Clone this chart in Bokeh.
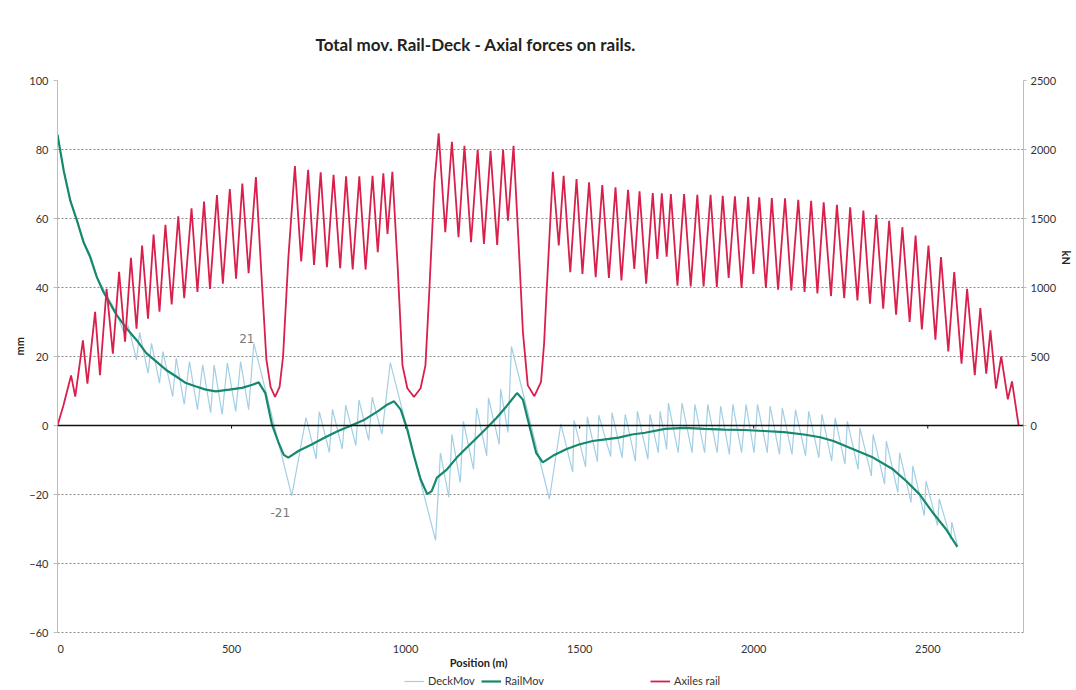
from bokeh.plotting import figure
from bokeh.models import (Range1d, LinearAxis, FixedTicker, Span, Label,
                          Legend, LegendItem, Title, ColumnDataSource)
from bokeh.core.properties import value
from bokeh.embed import file_html
from bokeh.resources import INLINE

# ---------------- data ----------------
x_ticks = [0, 500, 1000, 1500, 2000, 2500]
x_tick_labels = ["0", "500", "1000", "1500", "2000", "2500"]
mm_ticks = [-60, -40, -20, 0, 20, 40, 60, 80, 100]
kn_ticks = [0, 500, 1000, 1500, 2000, 2500]

rail_force_x = [0, 17, 39, 51, 73, 86, 108, 122, 141, 159, 177, 194, 211, 227, 243, 260, 276, 293,
                310, 328, 347, 364, 385, 402, 421, 438, 458, 475, 495, 513, 531, 549, 570, 588,
                600, 612, 625, 638, 648, 663, 682, 700, 720, 737, 756, 774, 793, 812, 829, 848,
                867, 885, 905, 920, 936, 948, 962, 977, 991, 1005, 1024, 1043, 1057, 1067, 1083,
                1095, 1114, 1133, 1152, 1169, 1188, 1207, 1225, 1244, 1263, 1280, 1294, 1310, 1325,
                1337, 1351, 1370, 1389, 1398, 1404, 1423, 1440, 1454, 1473, 1491, 1508, 1527, 1546,
                1565, 1584, 1603, 1620, 1639, 1657, 1672, 1691, 1710, 1723, 1736, 1750, 1762, 1781,
                1800, 1819, 1838, 1856, 1876, 1894, 1911, 1928, 1946, 1965, 1984, 1999, 2016, 2035,
                2052, 2070, 2090, 2108, 2128, 2146, 2165, 2183, 2201, 2222, 2239, 2260, 2277, 2298,
                2315, 2334, 2352, 2372, 2389, 2409, 2427, 2448, 2465, 2483, 2502, 2522, 2538, 2559,
                2576, 2597, 2613, 2635, 2651, 2668, 2680, 2696, 2711, 2730, 2742, 2761]
rail_force_kn = [0, 145, 363, 210, 617, 304, 824, 364, 990, 521, 1113, 607, 1215, 701, 1304, 774,
                 1383, 824, 1455, 877, 1516, 923, 1574, 967, 1622, 990, 1670, 1027, 1714, 1063, 1753,
                 1103, 1800, 1000, 480, 280, 207, 280, 500, 1207, 1880, 1188, 1853, 1164, 1834, 1147,
                 1817, 1140, 1805, 1130, 1805, 1130, 1810, 1256, 1827, 1388, 1839, 1159, 436, 270,
                 207, 270, 436, 918, 1762, 2118, 1400, 2055, 1364, 2027, 1328, 1998, 1316, 1990, 1309,
                 1998, 1484, 2027, 1300, 677, 291, 212, 316, 600, 918, 1839, 1304, 1810, 1111, 1786,
                 1099, 1762, 1075, 1742, 1070, 1726, 1051, 1708, 1135, 1697, 1027, 1685, 1207, 1682,
                 1224, 1677, 1014, 1677, 1007, 1672, 1007, 1672, 1003, 1665, 1070, 1661, 996, 1658,
                 1099, 1653, 996, 1648, 985, 1646, 978, 1636, 967, 1629, 957, 1617, 938, 1600, 923,
                 1581, 906, 1557, 882, 1526, 846, 1484, 803, 1437, 750, 1376, 696, 1304, 622, 1220,
                 537, 1111, 448, 991, 364, 851, 376, 689, 268, 501, 190, 320, 0]

rail_mov_x = [0, 18, 37, 56, 75, 94, 113, 132, 151, 170, 198, 227, 255, 284, 312, 341, 369, 398,
              426, 455, 493, 530, 560, 578, 597, 616, 635, 650, 663, 692, 730, 768, 806, 844, 882,
              920, 948, 967, 986, 1005, 1024, 1043, 1062, 1075, 1090, 1119, 1147, 1176, 1204, 1233,
              1261, 1290, 1320, 1337, 1356, 1375, 1394, 1423, 1461, 1498, 1537, 1574, 1612, 1650,
              1688, 1745, 1802, 1859, 1916, 1973, 2030, 2087, 2144, 2191, 2229, 2286, 2343, 2400,
              2438, 2476, 2514, 2552, 2585]
rail_mov_mm = [84.3, 73.8, 65.1, 59.4, 53.1, 48.8, 43.0, 38.7, 35.4, 32.0, 28.2, 24.8, 21.0, 18.5,
               16.1, 14.2, 12.3, 11.3, 10.4, 9.9, 10.4, 10.9, 11.8, 12.5, 9.4, 0.3, -5.0, -8.5, -9.3,
               -7.4, -5.5, -3.5, -1.6, 0.0, 1.7, 4.1, 6.1, 7.0, 4.6, -1.2, -8.8, -15.6, -19.9, -19.0,
               -15.1, -12.7, -9.3, -6.4, -3.6, -0.7, 2.2, 5.6, 9.4, 7.5, -0.2, -7.9, -10.7, -8.8,
               -6.9, -5.5, -4.5, -4.0, -3.5, -2.6, -2.1, -1.0, -0.7, -1.0, -1.2, -1.3, -1.6, -1.9,
               -2.6, -3.4, -4.5, -6.9, -9.3, -12.7, -16.1, -19.9, -25.2, -30.0, -35.2]

deck_mov_x = [0, 18, 37, 56, 75, 94, 113, 132, 151, 170, 192, 203, 227, 236, 260, 270, 293, 303,
              331, 341, 364, 379, 402, 417, 440, 450, 473, 488, 512, 526, 549, 564, 673, 714, 743,
              752, 781, 790, 818, 828, 857, 866, 894, 904, 932, 956, 1086, 1100, 1124, 1133, 1157,
              1166, 1195, 1204, 1233, 1238, 1269, 1273, 1294, 1304, 1413, 1446, 1480, 1484, 1517,
              1522, 1551, 1555, 1589, 1593, 1622, 1631, 1660, 1666, 1696, 1702, 1726, 1731, 1750,
              1755, 1783, 1794, 1823, 1831, 1859, 1868, 1895, 1905, 1930, 1940, 1965, 1978, 2001,
              2011, 2039, 2047, 2074, 2082, 2110, 2120, 2149, 2158, 2187, 2196, 2224, 2234, 2262,
              2269, 2300, 2305, 2338, 2343, 2376, 2381, 2414, 2419, 2452, 2457, 2490, 2495, 2528,
              2533, 2566, 2569, 2585]
deck_mov_mm = [84.3, 73.8, 65.1, 59.4, 53.1, 49.5, 43.0, 39.5, 36.0, 32.5, 26.5, 29.0, 19.0, 27.0,
               15.2, 23.8, 12.3, 21.4, 8.4, 19.5, 6.1, 18.5, 4.6, 17.6, 3.7, 17.6, 3.2, 18.1, 4.1,
               18.5, 4.6, 23.8, -20.4, 2.3, -9.7, 4.0, -7.8, 4.7, -6.8, 5.9, -5.8, 7.4, -4.3, 8.2,
               -2.5, 18.2, -33.3, -7.9, -20.8, -2.6, -16.5, 1.2, -12.7, 5.1, -8.8, 8.0, -5.5, 10.6,
               -2.0, 22.9, -21.3, 0.5, -13.5, 1.5, -12.0, 2.5, -10.5, 3.0, -9.0, 3.7, -9.3, 3.2,
               -10.3, 4.1, -9.8, 3.2, -7.9, 4.1, -6.9, 6.5, -7.9, 6.5, -7.9, 6.1, -7.9, 6.1, -7.9,
               5.6, -8.4, 6.1, -7.9, 6.1, -7.9, 6.1, -7.9, 5.6, -8.4, 5.1, -8.4, 4.6, -8.8, 4.1,
               -9.3, 3.2, -10.3, 2.2, -11.2, 1.2, -12.7, -0.7, -14.6, -2.6, -17.0, -4.5, -19.4,
               -7.9, -22.3, -11.7, -26.1, -16.1, -29.0, -21.3, -32.9, -28.0, -34.8]

# ---------------- geometry / style ----------------
FONT = "Lato"
BLUE = "#A3CFE4"
GREEN = "#17886B"
RED = "#D91F4C"
TXT = "#222222"

W, H = 1074, 688
B_LEFT, B_RIGHT, B_TOP = 57, 40, 80
PX_PER_MM = 552 / 160.0                 # plot area 100..-60 mm is 552 px tall
Y_LO = 100 - (H - B_TOP) / PX_PER_MM    # frame continues to page bottom (room for legend)
KN_PER_MM = 25.0

p = figure(width=W, height=H, output_backend="svg", toolbar_location=None,
           x_range=Range1d(0, 2775), y_range=Range1d(Y_LO, 100),
           x_axis_location=None,
           min_border_left=B_LEFT, min_border_right=B_RIGHT, min_border_top=B_TOP,
           min_border_bottom=0)
p.outline_line_color = None
p.background_fill_color = "white"
p.extra_y_ranges = {"kn": Range1d(Y_LO * KN_PER_MM, 100 * KN_PER_MM)}

# main title (top panel)
p.title = Title(text="Total mov. Rail-Deck - Axial forces on rails.", align="left",
                offset=258, vertical_align="middle", text_font=FONT, text_font_style="bold",
                text_font_size="17px", text_color=TXT, standoff=50)

# left axis (mm)
p.yaxis.ticker = FixedTicker(ticks=mm_ticks)
p.yaxis.bounds = (-60, 100)
p.yaxis.axis_line_color = "#BDBDBD"
p.yaxis.major_tick_line_color = "#BDBDBD"
p.yaxis.major_tick_out = 4
p.yaxis.major_tick_in = 0
p.yaxis.minor_tick_line_color = None
p.yaxis.major_label_standoff = 5
# right axis (kN)
ax_r = LinearAxis(y_range_name="kn", ticker=FixedTicker(ticks=kn_ticks), bounds=(-1500, 2500))
ax_r.axis_line_color = "#BDBDBD"
ax_r.major_tick_line_color = "#BDBDBD"
ax_r.major_tick_out = 3
ax_r.major_tick_in = 0
ax_r.minor_tick_line_color = None
ax_r.major_label_standoff = 4
p.add_layout(ax_r, "right")
for ax in [p.yaxis[0], ax_r]:
    ax.major_label_text_font = FONT
    ax.major_label_text_font_size = "11px"
    ax.major_label_text_color = "#333333"

p.add_layout(Title(text="mm", align="left", offset=333, text_font=FONT, text_font_style="bold",
                   text_font_size="11px", text_color=TXT, standoff=2), "left")
p.add_layout(Title(text="kN", align="left", offset=170, text_font=FONT, text_font_style="bold",
                   text_font_size="11px", text_color=TXT, standoff=0), "right")

p.xgrid.visible = False
p.ygrid.ticker = FixedTicker(ticks=mm_ticks)
p.ygrid.grid_line_color = "#8A8A8A"
p.ygrid.grid_line_dash = "2 2"
p.ygrid.grid_line_width = 1

# zero line (Excel's horizontal axis) with its tick marks
p.add_layout(Span(location=0, dimension="width", line_color="#111111", line_width=1.6))
p.segment(x0=x_ticks, y0=[-0.9] * len(x_ticks), x1=x_ticks, y1=[0] * len(x_ticks),
          line_color="#111111", line_width=1)

# x tick labels and title under the plot area
lab_y = -60 - 16 / PX_PER_MM
tick_src = ColumnDataSource(dict(
    x=x_ticks, y=[lab_y] * len(x_ticks), text=x_tick_labels,
    align=["left"] + ["center"] * (len(x_ticks) - 1)))
p.text(x="x", y="y", text="text", source=tick_src, text_font=value(FONT),
       text_font_size="11px", text_color="#333333", text_align="align",
       text_baseline="middle")
p.add_layout(Label(x=1210, y=-60 - 30 / PX_PER_MM, text="Position (m)", text_font=FONT,
                   text_font_style="bold", text_font_size="11px", text_align="center",
                   text_baseline="middle", text_color=TXT))

r_blue = p.line(deck_mov_x, deck_mov_mm, line_color=BLUE, line_width=1.2)
r_green = p.line(rail_mov_x, rail_mov_mm, line_color=GREEN, line_width=2.2)
r_red = p.line(rail_force_x, rail_force_kn, line_color=RED, line_width=1.8, y_range_name="kn")
r_gap = p.line(rail_mov_x, rail_mov_mm, line_alpha=0)  # invisible, only spaces legend items

# handwritten notes
p.add_layout(Label(x=544, y=25.2, text="21", text_font="DejaVu Sans",
                   text_font_size="12px", text_align="center", text_baseline="middle",
                   text_color="#7A7A7A"))
p.add_layout(Label(x=640, y=-25.2, text="-21", text_font="DejaVu Sans",
                   text_font_size="12px", text_align="center", text_baseline="middle",
                   text_color="#7A7A7A"))

lg = Legend(items=[LegendItem(label="DeckMov", renderers=[r_blue]),
                   LegendItem(label="RailMov", renderers=[r_green]),
                   LegendItem(label=" ", renderers=[r_gap]),
                   LegendItem(label=" ", renderers=[r_gap]),
                   LegendItem(label="Axiles rail", renderers=[r_red])],
            location=(346, 0), orientation="horizontal")
lg.label_text_font = FONT
lg.label_text_font_size = "11px"
lg.label_text_color = "#333333"
lg.glyph_width = 20
lg.glyph_height = 10
lg.label_standoff = 4
lg.spacing = 6
lg.padding = 1
lg.margin = 0
lg.border_line_alpha = 0
lg.background_fill_alpha = 0
lg.label_height = 10
p.add_layout(lg)

open("out.html", "w").write(file_html(p, INLINE))
